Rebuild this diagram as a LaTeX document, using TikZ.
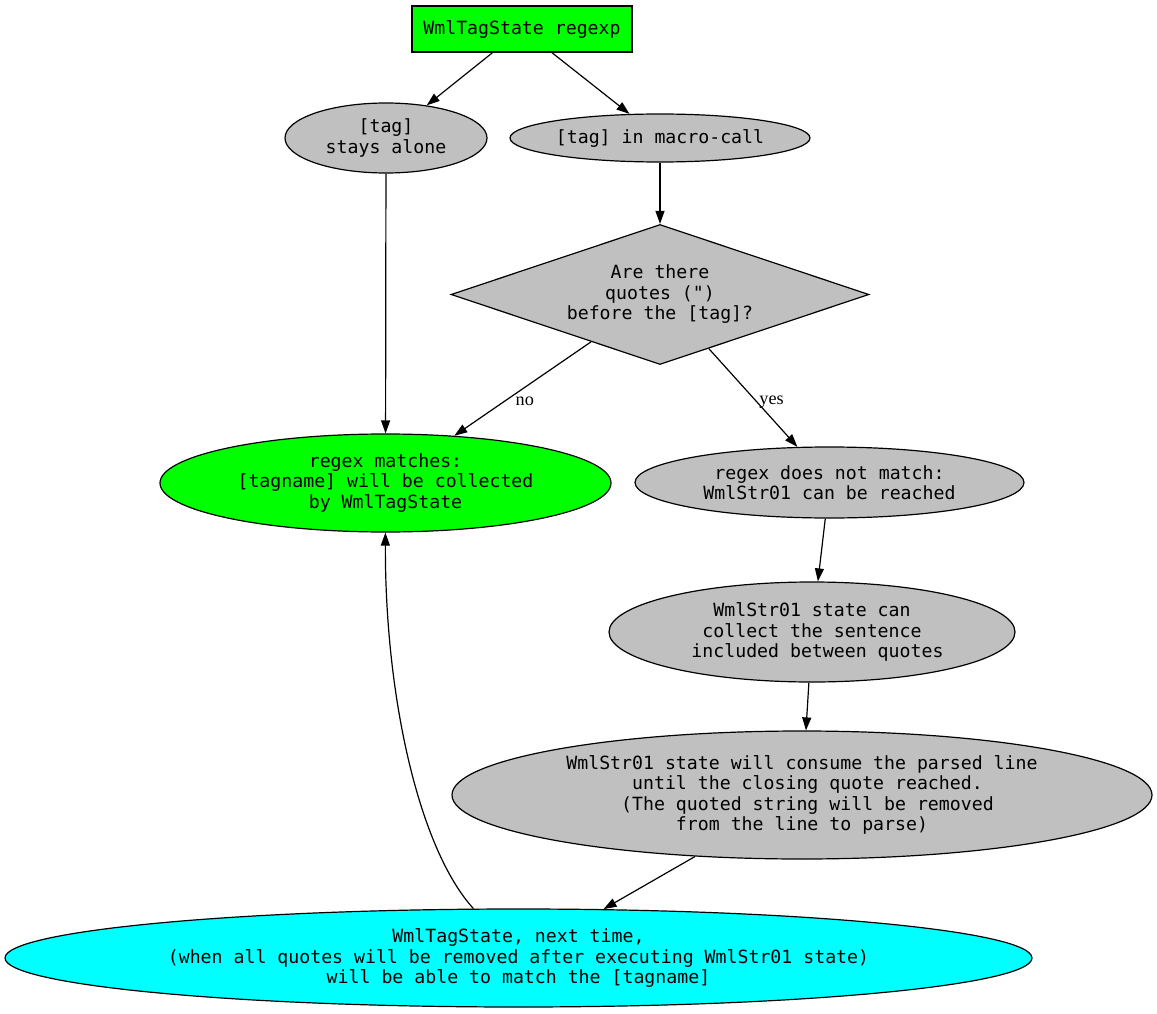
\documentclass[tikz,border=0pt]{standalone}
\usepackage{fontspec}
\setmainfont{Liberation Serif}
\setmonofont{DejaVu Sans Mono}
\usetikzlibrary{arrows.meta, shapes.geometric}
\definecolor{ink}{HTML}{000000}
\definecolor{greenN}{HTML}{00FF00}
\definecolor{greyN}{HTML}{C0C0C0}
\definecolor{cyanN}{HTML}{00FFFF}

\begin{document}
\begin{tikzpicture}[
  x=1pt, y=-1pt,
  font=\ttfamily\fontsize{18.2}{20.5}\selectfont,
  box/.style={rectangle, draw=ink, line width=1.2pt, fill=greenN, text=ink,
           align=center, inner sep=0pt},
  st/.style={ellipse, draw=ink, line width=1.2pt, fill=greyN, text=ink,
           align=center, inner sep=0pt},
  ask/.style={diamond, aspect=3, draw=ink, line width=1.2pt, fill=greyN, text=ink,
           align=center, inner sep=0pt},
  arr/.style={-{Triangle[length=13pt, width=9pt]}, line width=1.2pt, color=ink},
  lab/.style={font=\rmfamily\fontsize{18.2}{20}\selectfont, text=ink, inner sep=0pt}
]
  \useasboundingbox (0,0) rectangle (1157,1014);

  \node[box, minimum width=220, minimum height=46] (Start) at (522,29) {WmlTagState regexp};

  \node[st, minimum width=202, minimum height=70] (Alone) at (386,138) {[tag]\\stays alone};
  \node[st, minimum width=300, minimum height=48] (Macro) at (660,138) {[tag] in macro-call};

  \node[ask, minimum width=418, minimum height=140] (Quotes) at (660,294.5)
    {Are there\\quotes (\char34)\\before the [tag]?};

  \node[st, fill=greenN, minimum width=451, minimum height=98] (Match) at (385.5,483)
    {regex matches:\\{}[tagname] will be collected\\by WmlTagState};
  \node[st, minimum width=389, minimum height=71] (NoMatch) at (829.5,482.5)
    {regex does not match:\\WmlStr01 can be reached};
  \node[st, minimum width=406, minimum height=100] (Collect) at (812,632)
    {WmlStr01 state can\\collect the sentence\\\phantom{x}included between quotes};
  \node[st, minimum width=700, minimum height=128] (Consume) at (802,795)
    {WmlStr01 state will consume the parsed line\\\phantom{x}until the closing quote reached.\\\phantom{x}(The quoted string will be removed\\from the line to parse)};
  \node[st, fill=cyanN, minimum width=1027, minimum height=98] (Next) at (518.5,958)
    {WmlTagState, next time,\\(when all quotes will be removed after executing WmlStr01 state)\\will be able to match the [tagname]};

  \draw[arr] (Start) -- (Alone);
  \draw[arr] (Start) -- (Macro);
  \draw[arr] (Macro) -- (Quotes);
  \draw[arr] (Alone) -- (Match);
  \draw[arr] (Quotes) -- (Match) node[lab, pos=0.61, right=7.5pt, yshift=-2pt] {no};
  \draw[arr] (Quotes) -- (NoMatch) node[lab, pos=0.514, right=4.5pt, yshift=-3.5pt] {yes};
  \draw[arr] (NoMatch) -- (Collect);
  \draw[arr] (Collect) -- (Consume);
  \draw[arr] (Consume) -- (Next);
  \draw[arr] (Next) .. controls (420,850) and (385,700) .. (Match);
\end{tikzpicture}
\end{document}
